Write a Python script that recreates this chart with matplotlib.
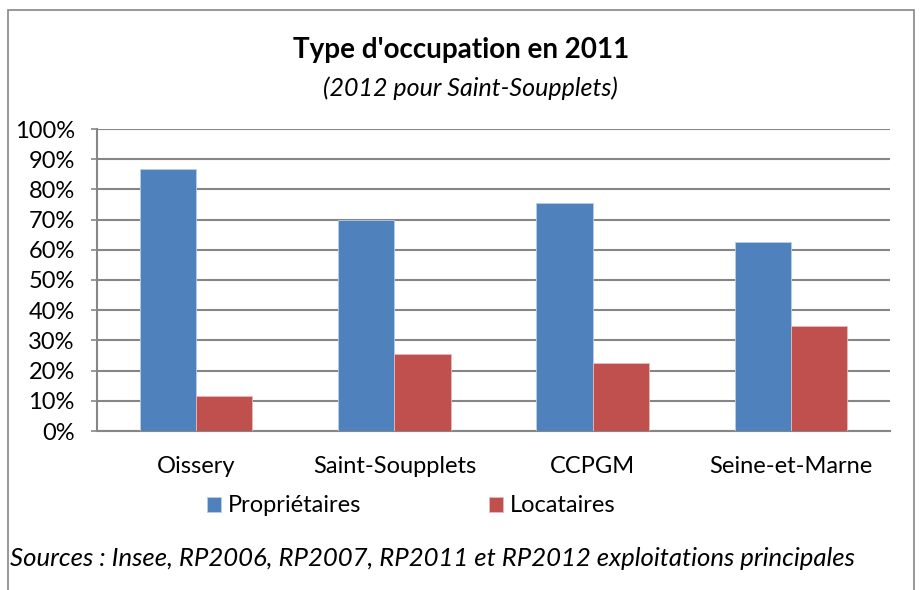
import numpy as np
import matplotlib
matplotlib.use('Agg')
import matplotlib.pyplot as plt
from matplotlib.patches import Rectangle

matplotlib.rcParams['font.family'] = ['Lato', 'DejaVu Sans']

communes = ['Oissery', 'Saint-Soupplets', 'CCPGM', 'Seine-et-Marne']
proprietaires = [86.8, 70.0, 75.4, 62.7]
locataires = [11.7, 25.5, 22.6, 34.9]
series_names = ['Propriétaires', 'Locataires']
yticks = [0, 10, 20, 30, 40, 50, 60, 70, 80, 90, 100]

blue = '#4F81BD'
red = '#C0504D'
grid = '#868686'

fig = plt.figure(figsize=(9.22, 5.90), dpi=100)
ax = fig.add_axes([97/922, 1 - 431/590, (890-97)/922, (431-129)/590])

x = np.arange(len(communes))
w = 0.284
b1 = ax.bar(x - w/2, proprietaires, w, color=blue, edgecolor='#B9CDE5', linewidth=0.6, label=series_names[0], zorder=3)
b2 = ax.bar(x + w/2, locataires, w, color=red, edgecolor='#E6B9B8', linewidth=0.6, label=series_names[1], zorder=3)

ax.set_xlim(-0.5, len(communes) - 0.5)
ax.set_ylim(0, 100)
ax.set_yticks(yticks)
ax.set_yticklabels([f'{t}%' for t in yticks], fontsize=17)
ax.set_xticks(x)
ax.set_xticklabels(communes, fontsize=17)
ax.tick_params(axis='x', length=0, pad=18)
ax.tick_params(axis='y', length=4, width=1.2, color=grid, pad=12)
ax.yaxis.grid(True, color=grid, linewidth=1.5, zorder=0)
for s in ['top', 'right']:
    ax.spines[s].set_visible(False)
for s in ['left', 'bottom']:
    ax.spines[s].set_color(grid)
    ax.spines[s].set_linewidth(1.5)

fig.text(461/922, 1 - 50/590, "Type d'occupation en 2011", ha='center', va='center',
         fontsize=20, fontweight='bold')
fig.text(470/922, 1 - 88/590, '(2012 pour Saint-Soupplets)', ha='center', va='center',
         fontsize=18, style='italic')

fig.legend(handles=[b1, b2], labels=series_names, loc='center', ncol=2,
           bbox_to_anchor=(411/922, 1 - 506/590), frameon=False, fontsize=17,
           handlelength=0.6, handleheight=0.6, handletextpad=0.3, columnspacing=5.4,
           borderpad=0, borderaxespad=0)

fig.text(10/922, 1 - 558/590, 'Sources : Insee, RP2006, RP2007, RP2011 et RP2012 exploitations principales',
         ha='left', va='center', fontsize=18.5, style='italic')

fig.patches.append(Rectangle((8/922, -0.05), (914-8)/922, 1.05 - 10/590,
                             transform=fig.transFigure, fill=False, edgecolor='#868686', linewidth=1.2))

fig.savefig('out.png', dpi=100)
